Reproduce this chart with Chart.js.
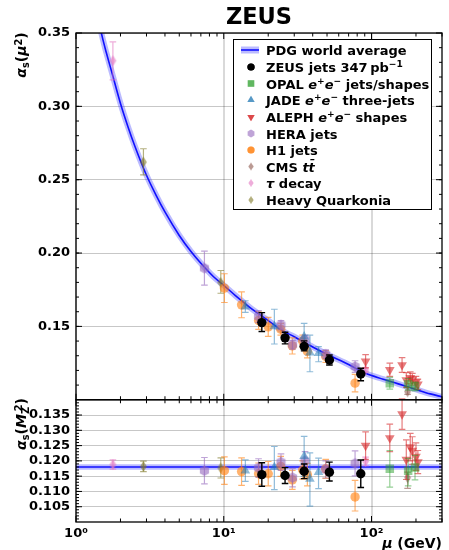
<!DOCTYPE html>
<html><head><meta charset="utf-8">
<script src="https://cdn.jsdelivr.net/npm/chart.js@4/dist/chart.umd.min.js"></script>
<style>
html,body{margin:0;padding:0;background:#fff;}
#wrap{position:relative;width:449px;height:550px;font-family:"DejaVu Sans",sans-serif;font-weight:bold;color:#000;}
canvas{position:absolute;left:0;top:0;}
.t{position:absolute;white-space:nowrap;line-height:1;}
.leg{position:absolute;left:266px;font-size:13px;white-space:nowrap;line-height:1;transform:translateY(-50%);}
sup{font-size:70%;vertical-align:0.45em;line-height:0}
sub{font-size:70%;vertical-align:-0.3em;line-height:0}
i{font-style:italic}
</style></head><body>
<div id="wrap">
<canvas id="c" width="449" height="550"></canvas>
<div class="t" style="left:259px;top:16px;font-size:22.5px;transform:translate(-50%,-50%);">ZEUS</div>
<div class="t" style="left:21px;top:55px;font-size:14px;transform:translate(-50%,-50%) rotate(-90deg);"><i>α</i><sub>s</sub>(<i>μ</i><sup>2</sup>)</div>
<div class="t" style="left:21px;top:424px;font-size:14px;transform:translate(-50%,-50%) rotate(-90deg);"><i>α</i><sub>s</sub>(<i>M</i><sub>Z</sub><sup style="margin-left:-0.45em">2</sup>)</div>
<div class="t" style="right:7px;top:543px;font-size:14px;transform:translateY(-50%);"><i>μ</i> (GeV)</div>
<div class="leg" style="top:50px">PDG world average</div>
<div class="leg" style="top:67px">ZEUS jets 347&#8201;pb<sup>−1</sup></div>
<div class="leg" style="top:83.5px">OPAL <i>e</i><sup>+</sup><i>e</i><sup>−</sup> jets/shapes</div>
<div class="leg" style="top:100px">JADE <i>e</i><sup>+</sup><i>e</i><sup>−</sup> three-jets</div>
<div class="leg" style="top:117px">ALEPH <i>e</i><sup>+</sup><i>e</i><sup>−</sup> shapes</div>
<div class="leg" style="top:133.5px">HERA jets</div>
<div class="leg" style="top:150px">H1 jets</div>
<div class="leg" style="top:166.5px">CMS <i>tt̄</i></div>
<div class="leg" style="top:183px"><i>τ</i> decay</div>
<div class="leg" style="top:200px">Heavy Quarkonia</div>
</div>
<script>
// ---------------- DATA ----------------
const X_TICKS = [1, 10, 100];
const X_TICK_LABELS = ['10⁰', '10¹', '10²'];
const TOP_TICKS = [0.15, 0.20, 0.25, 0.30, 0.35];
const BOT_TICKS = [0.105, 0.110, 0.115, 0.120, 0.125, 0.130, 0.135];

// PDG world average running curve
const PDG_MU = [1.4, 1.5, 1.6, 1.75, 2, 2.25, 2.5, 3, 3.5, 4, 5, 6, 7, 8.5, 10, 12, 15, 20, 25, 30, 40, 50, 70, 91.19, 120, 150, 200, 250, 300];
const PDG_AS = [0.362, 0.348, 0.337, 0.323, 0.302, 0.286, 0.273, 0.253, 0.239, 0.228, 0.212, 0.201, 0.193, 0.184, 0.178, 0.171, 0.163, 0.154, 0.147, 0.143, 0.136, 0.131, 0.124, 0.118, 0.114, 0.111, 0.107, 0.104, 0.102];
const PDG_MZ = 0.118;
const PDG_MZ_ERR = 0.0009;

// each error: number (symmetric) or [minus, plus]
const ZEUS_MU = [18.1, 26.0, 35.0, 51.9, 84.6];
const ZEUS_TOP = [0.1526, 0.1422, 0.1364, 0.1271, 0.1176];
const ZEUS_TOP_ERR = [[0.0061, 0.0068], [0.0041, 0.0038], [0.0031, 0.0037], 0.0034, [0.0046, 0.0039]];
const ZEUS_BOT = [0.1155, 0.1152, 0.1166, 0.1163, 0.1158];
const ZEUS_BOT_ERR = [[0.0038, 0.0039], 0.0026, 0.0024, [0.0029, 0.0033], 0.0045];

const OPAL_MU = [133, 177, 197];
const OPAL_TOP = [0.1113, 0.1105, 0.1090];
const OPAL_TOP_ERR = [0.004, 0.004, 0.003];
const OPAL_BOT = [0.1174, 0.1168, 0.1178];
const OPAL_BOT_ERR = [0.006, [0.005, 0.004], 0.004];

const JADE_MU = [14, 22, 35, 38.3, 43.8];
const JADE_TOP = [0.1635, 0.1500, 0.1430, 0.1321, 0.1317];
const JADE_TOP_ERR = [0.004, [0.012, 0.0117], 0.009, [0.013, 0.012], [0.0058, 0.0045]];
const JADE_BOT = [0.1168, 0.1179, 0.1215, 0.1141, 0.1163];
const JADE_BOT_ERR = [0.0035, [0.0073, 0.0068], [0.0066, 0.0065], [0.0089, 0.0085], [0.0054, 0.0046]];

const ALEPH_MU = [91.2, 133, 161, 172, 183, 189, 200, 206];
const ALEPH_TOP = [0.1262, 0.1204, 0.1237, 0.1135, 0.1150, 0.1140, 0.1120, 0.1105];
const ALEPH_TOP_ERR = [0.0045, 0.0045, 0.005, 0.005, 0.004, 0.004, 0.004, 0.0035];
const ALEPH_BOT = [0.1250, 0.1275, 0.1353, 0.1204, 0.1245, 0.1234, 0.1214, 0.1196];
const ALEPH_BOT_ERR = [0.0045, 0.0045, 0.005, 0.0065, 0.0045, 0.0045, 0.0045, 0.0038];

const HERA_MU = [7.4, 17.2, 24.4, 29.2, 35.5, 49, 77.4];
const HERA_TOP = [0.1897, 0.1567, 0.1510, 0.1375, 0.1410, 0.1310, 0.1226];
const HERA_TOP_ERR = [0.0116, 0.004, 0.003, 0.003, 0.003, 0.003, 0.004];
const HERA_BOT = [0.1168, 0.1177, 0.1196, 0.1145, 0.1200, 0.1172, 0.1192];
const HERA_BOT_ERR = [0.0043, 0.003, 0.0027, 0.003, 0.003, 0.0028, 0.0041];

const H1_MU = [10.1, 13.2, 17.2, 20.0, 24.3, 29.1, 34.2, 36.8, 49.0, 77.4];
const H1_TOP = [0.1761, 0.1647, 0.1540, 0.1497, 0.1481, 0.1367, 0.1400, 0.1330, 0.1295, 0.1113];
const H1_TOP_ERR = [0.0098, 0.0088, 0.006, 0.0065, 0.004, 0.0055, 0.004, 0.0045, 0.004, 0.006];
const H1_BOT = [0.1168, 0.1165, 0.1158, 0.1158, 0.1182, 0.1138, 0.1170, 0.1155, 0.1174, 0.1082];
const H1_BOT_ERR = [0.0045, 0.0045, 0.0035, 0.004, 0.0033, 0.0031, 0.003, 0.0037, 0.0031, [0.0046, 0.0054]];

const CMS_MU = [175.5];
const CMS_TOP = [0.1055];
const CMS_TOP_ERR = [[0.0018, 0.003]];
const CMS_BOT = [0.1145];
const CMS_BOT_ERR = [[0.0035, 0.0018]];

const TAU_MU = [1.777, 91.2];
const TAU_TOP = [0.3311, 0.1203];
const TAU_TOP_ERR = [[0.013, 0.0128], 0.0015];
const TAU_BOT = [0.1188, 0.1198];
const TAU_BOT_ERR = [0.0015, 0.0014];

const HQ_MU = [2.86, 9.55];
const HQ_TOP = [0.262, 0.1799];
const HQ_TOP_ERR = [[0.0087, 0.0091], [0.0073, 0.0082]];
const HQ_BOT = [0.1182, 0.1177];
const HQ_BOT_ERR = [0.0017, 0.0033];

// ---------------- STYLE ----------------
function markerCanvas(kind, color, r) {
  const s = Math.ceil(2 * r + 2);
  const c = document.createElement('canvas');
  c.width = s; c.height = s;
  const g = c.getContext('2d');
  const cx = s / 2, cy = s / 2;
  g.fillStyle = color;
  g.beginPath();
  if (kind === 'hex') {
    for (let k = 0; k < 6; k++) {
      const a = -Math.PI / 2 + k * Math.PI / 3;
      const px = cx + r * Math.cos(a), py = cy + r * Math.sin(a);
      k ? g.lineTo(px, py) : g.moveTo(px, py);
    }
  } else if (kind === 'dia') {
    g.moveTo(cx, cy - r); g.lineTo(cx + r * 0.62, cy); g.lineTo(cx, cy + r); g.lineTo(cx - r * 0.62, cy);
  }
  g.closePath(); g.fill();
  return c;
}

const C_ZEUS = '#000000';
const C_OPAL = 'rgba(44,160,44,0.5)';
const C_JADE = 'rgba(31,119,180,0.5)';
const C_ALEPH = 'rgba(214,39,40,0.6)';
const C_HERA = 'rgba(148,103,189,0.6)';
const C_H1 = 'rgba(255,127,14,0.6)';
const C_CMS = 'rgba(140,86,75,0.6)';
const C_TAU = 'rgba(227,119,194,0.6)';
const C_HQ = 'rgba(128,122,40,0.6)';

const groups = [
  {name: 'ZEUS', color: C_ZEUS, style: 'circle', r: 4.7, rot: 0, mu: ZEUS_MU, top: ZEUS_TOP, topErr: ZEUS_TOP_ERR, bot: ZEUS_BOT, botErr: ZEUS_BOT_ERR, lw: 1.4, order: 0, lr: 3.6},
  {name: 'OPAL', color: C_OPAL, style: 'rect', r: 6, rot: 0, mu: OPAL_MU, top: OPAL_TOP, topErr: OPAL_TOP_ERR, bot: OPAL_BOT, botErr: OPAL_BOT_ERR, lw: 1.2, order: 1, lr: 4.6},
  {name: 'JADE', color: C_JADE, style: 'triangle', r: 5.6, rot: 0, mu: JADE_MU, top: JADE_TOP, topErr: JADE_TOP_ERR, bot: JADE_BOT, botErr: JADE_BOT_ERR, lw: 1.2, order: 2, lr: 4.2},
  {name: 'ALEPH', color: C_ALEPH, style: 'triangle', r: 5.6, rot: 180, mu: ALEPH_MU, top: ALEPH_TOP, topErr: ALEPH_TOP_ERR, bot: ALEPH_BOT, botErr: ALEPH_BOT_ERR, lw: 1.2, order: 3, lr: 4.2},
  {name: 'HERA', color: C_HERA, style: markerCanvas('hex', C_HERA, 5.3), r: 5.3, rot: 0, mu: HERA_MU, top: HERA_TOP, topErr: HERA_TOP_ERR, bot: HERA_BOT, botErr: HERA_BOT_ERR, lw: 1.2, order: 4},
  {name: 'H1', color: C_H1, style: 'circle', r: 4.7, rot: 0, mu: H1_MU, top: H1_TOP, topErr: H1_TOP_ERR, bot: H1_BOT, botErr: H1_BOT_ERR, lw: 1.2, order: 5, lr: 3.6},
  {name: 'CMS', color: C_CMS, style: markerCanvas('dia', C_CMS, 5.5), r: 5.5, rot: 0, mu: CMS_MU, top: CMS_TOP, topErr: CMS_TOP_ERR, bot: CMS_BOT, botErr: CMS_BOT_ERR, lw: 1.2, order: 6},
  {name: 'TAU', color: C_TAU, style: markerCanvas('dia', C_TAU, 5.5), r: 5.5, rot: 0, mu: TAU_MU, top: TAU_TOP, topErr: TAU_TOP_ERR, bot: TAU_BOT, botErr: TAU_BOT_ERR, lw: 1.2, order: 7},
  {name: 'HQ', color: C_HQ, style: markerCanvas('dia', C_HQ, 5.5), r: 5.5, rot: 0, mu: HQ_MU, top: HQ_TOP, topErr: HQ_TOP_ERR, bot: HQ_BOT, botErr: HQ_BOT_ERR, lw: 1.2, order: 8}
];

function errPair(e) { return Array.isArray(e) ? e : [e, e]; }

const datasets = [];
groups.forEach(g => {
  [['yTop', g.top, g.topErr], ['yBot', g.bot, g.botErr]].forEach(([ax, vals, errs]) => {
    datasets.push({
      label: g.name, yAxisID: ax, order: g.order,
      data: g.mu.map((m, i) => { const e = errPair(errs[i]); return {x: m, y: vals[i], lo: vals[i] - e[0], hi: vals[i] + e[1]}; }),
      pointStyle: g.style, pointRadius: g.r, pointRotation: g.rot,
      backgroundColor: g.color, borderColor: g.color, borderWidth: 0,
      errColor: g.color, errWidth: g.lw, showLine: false, clip: 0
    });
  });
});
// PDG curve (top panel): wide band + core line
datasets.push({type: 'line', label: 'PDG core', yAxisID: 'yTop', order: 20, data: PDG_MU.map((m, i) => ({x: m, y: PDG_AS[i]})),
  borderColor: '#1010ff', borderWidth: 1.6, pointRadius: 0, cubicInterpolationMode: 'monotone', clip: 0, fill: false});
datasets.push({type: 'line', label: 'PDG band', yAxisID: 'yTop', order: 21, data: PDG_MU.map((m, i) => ({x: m, y: PDG_AS[i]})),
  borderColor: 'rgba(60,60,255,0.35)', borderWidth: 6, pointRadius: 0, cubicInterpolationMode: 'monotone', clip: 0, fill: false});
// PDG band (bottom panel)
datasets.push({type: 'line', label: 'PDG MZ', yAxisID: 'yBot', order: 20, data: [{x: 1, y: PDG_MZ}, {x: 300, y: PDG_MZ}],
  borderColor: '#1010ff', borderWidth: 1.6, pointRadius: 0, clip: 0, fill: false});
datasets.push({type: 'line', label: 'PDG MZ hi', yAxisID: 'yBot', order: 22, data: [{x: 1, y: PDG_MZ + PDG_MZ_ERR}, {x: 300, y: PDG_MZ + PDG_MZ_ERR}],
  borderColor: 'rgba(0,0,0,0)', borderWidth: 0, pointRadius: 0, clip: 0, fill: '+1', backgroundColor: 'rgba(60,60,255,0.35)'});
datasets.push({type: 'line', label: 'PDG MZ lo', yAxisID: 'yBot', order: 23, data: [{x: 1, y: PDG_MZ - PDG_MZ_ERR}, {x: 300, y: PDG_MZ - PDG_MZ_ERR}],
  borderColor: 'rgba(0,0,0,0)', borderWidth: 0, pointRadius: 0, clip: 0, fill: false});

// ---------------- PLUGINS ----------------
const errorBars = {
  id: 'errorBars',
  beforeDatasetDraw(chart, args) {
    const ds = chart.data.datasets[args.index];
    if (!ds.errColor) return;
    const meta = args.meta;
    const ys = chart.scales[ds.yAxisID];
    const ctx = chart.ctx;
    ctx.save();
    ctx.strokeStyle = ds.errColor; ctx.lineWidth = ds.errWidth;
    ds.data.forEach((d, i) => {
      const px = meta.data[i].x;
      const y1 = ys.getPixelForValue(d.lo), y2 = ys.getPixelForValue(d.hi);
      ctx.beginPath();
      ctx.moveTo(px, y1); ctx.lineTo(px, y2);
      ctx.moveTo(px - 3.3, y1); ctx.lineTo(px + 3.3, y1);
      ctx.moveTo(px - 3.3, y2); ctx.lineTo(px + 3.3, y2);
      ctx.stroke();
    });
    ctx.restore();
  }
};

function xMinorTicks() {
  const v = [];
  [1, 10, 100].forEach(d => { for (let k = 2; k <= 9; k++) { if (d * k <= 300) v.push(d * k); } });
  return v;
}

const frame = {
  id: 'frame',
  afterDatasetsDraw(chart) {
    const ctx = chart.ctx;
    const x = chart.scales.x, yT = chart.scales.yTop, yB = chart.scales.yBot;
    const L = chart.chartArea.left, R = chart.chartArea.right;
    ctx.save();
    ctx.strokeStyle = '#000'; ctx.lineWidth = 1;
    const panels = [[yT, TOP_TICKS, 0.01, 0.10, 0.35], [yB, BOT_TICKS, 0.001, 0.100, 0.140]];
    panels.forEach(([ys, major, minorStep, mn, mx]) => {
      const T = ys.top, B = ys.bottom;
      ctx.beginPath();
      X_TICKS.forEach(v => { const p = x.getPixelForValue(v); ctx.moveTo(p, B); ctx.lineTo(p, B - 6); ctx.moveTo(p, T); ctx.lineTo(p, T + 6); });
      xMinorTicks().forEach(v => { const p = x.getPixelForValue(v); ctx.moveTo(p, B); ctx.lineTo(p, B - 3.5); ctx.moveTo(p, T); ctx.lineTo(p, T + 3.5); });
      major.forEach(v => { const p = ys.getPixelForValue(v); ctx.moveTo(L, p); ctx.lineTo(L + 6, p); ctx.moveTo(R, p); ctx.lineTo(R - 6, p); });
      const n = Math.round((mx - mn) / minorStep);
      for (let k = 1; k < n; k++) {
        const v = mn + k * minorStep; const p = ys.getPixelForValue(v);
        ctx.moveTo(L, p); ctx.lineTo(L + 3, p); ctx.moveTo(R, p); ctx.lineTo(R - 3, p);
      }
      ctx.stroke();
      ctx.lineWidth = 1.3;
      ctx.strokeRect(L, T, R - L, B - T);
      ctx.lineWidth = 1;
    });
    // legend box
    const bx = 233.5, by = 39.5, bw = 198, bh = 170;
    ctx.fillStyle = '#fff';
    ctx.fillRect(bx, by, bw, bh);
    ctx.strokeStyle = '#000'; ctx.lineWidth = 1;
    ctx.strokeRect(bx, by, bw, bh);
    const mx0 = 251;
    ctx.fillStyle = 'rgba(60,60,255,0.35)';
    ctx.fillRect(241, 46.5, 18, 7);
    ctx.strokeStyle = '#1010ff'; ctx.lineWidth = 1.6;
    ctx.beginPath(); ctx.moveTo(241, 50); ctx.lineTo(259, 50); ctx.stroke();
    const rows = [67, 83.5, 100, 117, 133.5, 150, 166.5, 183, 200];
    groups.forEach((g, i) => {
      const y = rows[i];
      if (typeof g.style === 'string') {
        ctx.fillStyle = g.color; ctx.strokeStyle = g.color; ctx.lineWidth = 0;
        Chart.helpers.drawPoint(ctx, {pointStyle: g.style, radius: g.lr, rotation: g.rot, borderWidth: 0}, mx0, y);
        ctx.fill();
      } else {
        const sc = 0.75;
        const w = g.style.width * sc, h = g.style.height * sc;
        ctx.drawImage(g.style, mx0 - w / 2, y - h / 2, w, h);
      }
    });
    ctx.restore();
  }
};

const fontTick = {family: 'DejaVu Sans', size: 13, weight: 'bold'};
const gridCol = 'rgba(0,0,0,0.22)';

new Chart(document.getElementById('c'), {
  type: 'scatter',
  data: {datasets},
  options: {
    responsive: false, animation: false, devicePixelRatio: 1,
    layout: {padding: {top: 33, right: 7, left: 0, bottom: 0}},
    plugins: {legend: {display: false}, tooltip: {enabled: false}, title: {display: false}},
    scales: {
      x: {
        type: 'logarithmic', min: 1, max: 300, position: 'bottom',
        afterBuildTicks: s => { s.ticks = X_TICKS.map(v => ({value: v, major: true})); },
        afterFit: s => { s.height = 28; },
        ticks: {font: fontTick, color: '#000', padding: 4, maxRotation: 0, autoSkip: false,
          callback: (v) => { const i = X_TICKS.indexOf(v); return i >= 0 ? X_TICK_LABELS[i] : ''; }},
        grid: {color: 'rgba(0,0,0,0.15)', lineWidth: 2, drawTicks: false},
        border: {display: false}
      },
      yBot: {
        type: 'linear', min: 0.100, max: 0.140, position: 'left', stack: 'panels', stackWeight: 1,
        afterBuildTicks: s => { s.ticks = BOT_TICKS.map(v => ({value: v})); },
        afterFit: s => { s.width = 76; },
        ticks: {font: fontTick, color: '#000', padding: 6, autoSkip: false, callback: v => v.toFixed(3)},
        grid: {color: gridCol, lineWidth: 1, drawTicks: false},
        border: {display: false}
      },
      yTop: {
        type: 'linear', min: 0.10, max: 0.35, position: 'left', stack: 'panels', stackWeight: 3,
        afterBuildTicks: s => { s.ticks = TOP_TICKS.map(v => ({value: v})); },
        afterFit: s => { s.width = 76; },
        ticks: {font: fontTick, color: '#000', padding: 6, autoSkip: false, callback: v => v.toFixed(2)},
        grid: {color: gridCol, lineWidth: 1, drawTicks: false},
        border: {display: false}
      }
    }
  },
  plugins: [errorBars, frame]
});
</script>
</body></html>
